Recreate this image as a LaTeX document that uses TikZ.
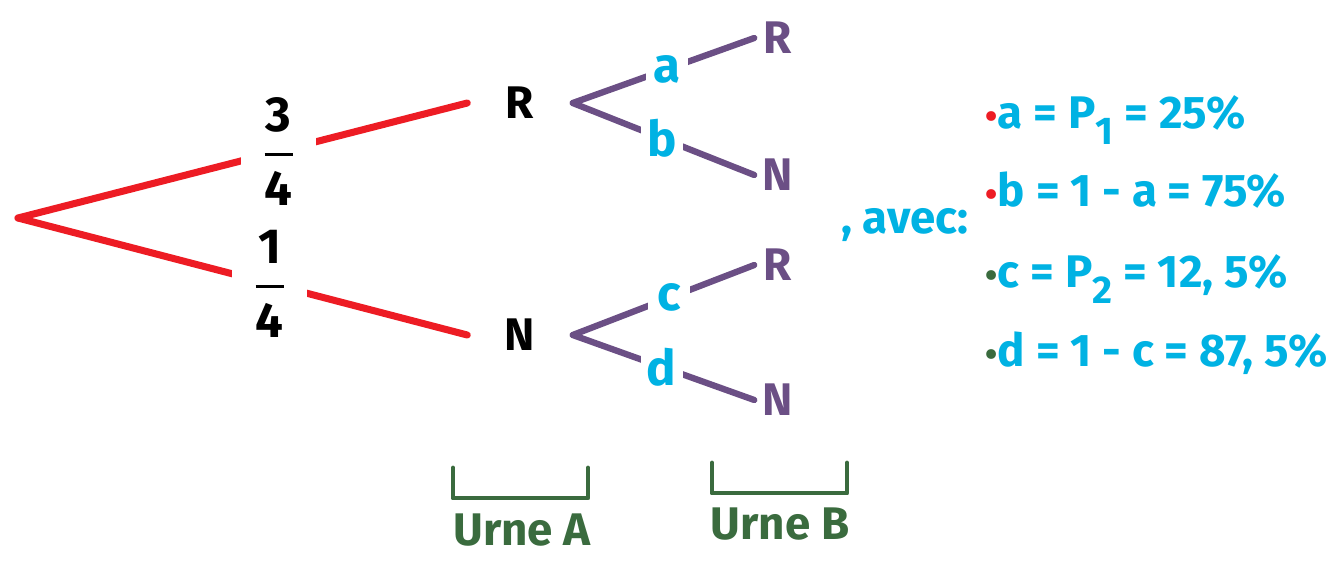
\documentclass[tikz,border=0pt]{standalone}
\usepackage{fontspec}
\setmainfont{Fira Sans}
\definecolor{rougeA}{HTML}{ED1C24}
\definecolor{violetB}{HTML}{6B4F85}
\definecolor{cyanP}{HTML}{00B2E3}
\definecolor{vertU}{HTML}{3A6B3E}
\newcommand{\puce}[1]{\textcolor{#1}{\normalsize\textbullet}}
\newcommand{\indice}[1]{\raisebox{-0.16cm}{\fontsize{11}{11}\selectfont #1}}
\begin{document}
\begin{tikzpicture}[x=0.01cm,y=-0.01cm,
   every node/.style={font=\bfseries\fontsize{13}{15}\selectfont},
   rouge/.style={draw=rougeA,line width=2pt,line cap=round},
   violet/.style={draw=violetB,line width=1.8pt,line cap=round},
   urne/.style={draw=vertU,line width=1.4pt,line cap=round,line join=round},
   etat/.style={minimum width=1.04cm,inner sep=0pt,text=black},
   feuille/.style={minimum width=0.46cm,inner sep=0pt,text=violetB},
   proba/.style={fill=white,minimum width=0.75cm,inner sep=0pt,align=center,text=black,
     font=\bfseries\fontsize{14}{15}\selectfont},
   lettre/.style={fill=white,minimum width=0.42cm,inner sep=0pt,text=cyanP,
     font=\bfseries\fontsize{14}{16}\selectfont},
   ligne/.style={anchor=base west,inner sep=0pt,text=cyanP}]
 \useasboundingbox (0,0) rectangle (1327,563);
 % premier tirage
 \coordinate (O) at (18,218);
 \node[etat] (R) at (520,103) {R};
 \node[etat] (N) at (520,335) {N};
 \draw[rouge] (O) -- node[proba,pos=.58] (p34)
   {3\\[-8pt]\rule{0.28cm}{0.03cm}\\[-1pt]4} (R.west);
 \draw[rouge] (O) -- node[proba,pos=.56] (p14)
   {1\\[-8pt]\rule{0.28cm}{0.03cm}\\[-1pt]4} (N.west);
 % second tirage
 \node[feuille] (RR) at (778,38) {R};
 \node[feuille] (RN) at (778,175) {N};
 \node[feuille] (NR) at (778,265) {R};
 \node[feuille] (NN) at (778,400) {N};
 \draw[violet] (R.east) -- node[lettre,pos=.52] (a) {a} (RR.west);
 \draw[violet] (R.east) -- node[lettre,pos=.49] (b) {b} (RN.west);
 \draw[violet] (N.east) -- node[lettre,pos=.53] (c) {c} (NR.west);
 \draw[violet] (N.east) -- node[lettre,pos=.49] (d) {d} (NN.west);
 % urnes
 \node[text=vertU] (uA) at (522,530) {Urne A};
 \node[text=vertU] (uB) at (780,524) {Urne B};
 \draw[urne] (453,468) |- (588,498) -- (588,468);
 \draw[urne] (712,463) |- (847,493) -- (847,463);
 % valeurs
 \node[text=cyanP] (avec) at (905,225) {, avec:};
 \node[ligne] (l1) at (985,128) {\puce{rougeA}a = P\indice{1} = 25\%};
 \node[ligne] (l2) at (985,206) {\puce{rougeA}b = 1 - a = 75\%};
 \node[ligne] (l3) at (985,287) {\puce{vertU}c = P\indice{2} = 12, 5\%};
 \node[ligne] (l4) at (985,366) {\puce{vertU}d = 1 - c = 87, 5\%};
\end{tikzpicture}
\end{document}
